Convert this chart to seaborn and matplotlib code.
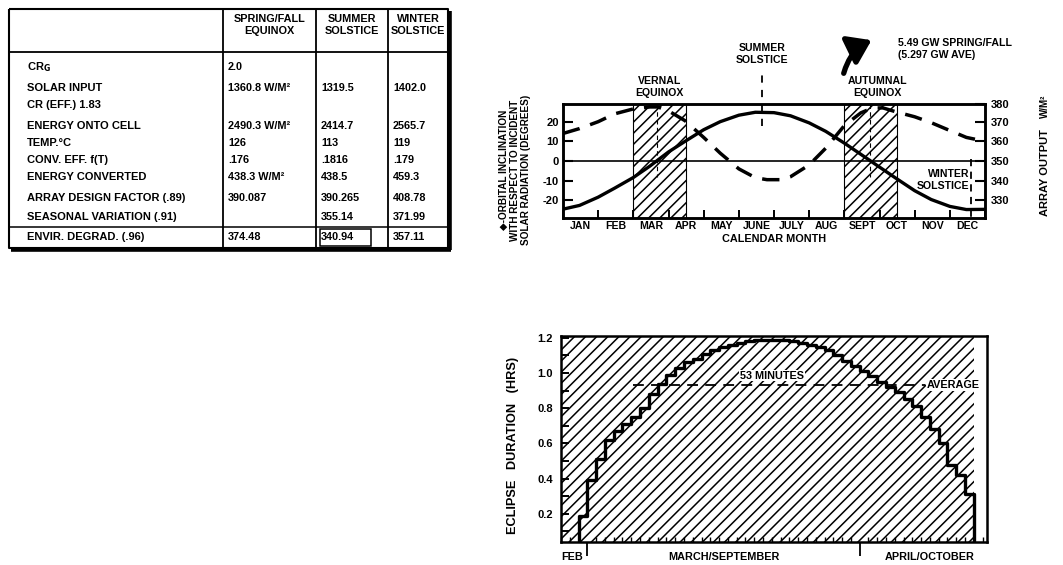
import numpy as np
import pandas as pd
import matplotlib
matplotlib.use("Agg")
import matplotlib.pyplot as plt
import seaborn as sns
from matplotlib.patches import FancyArrowPatch, Rectangle

sns.set_theme(style="ticks", rc={
    "axes.edgecolor": "black", "text.color": "black", "xtick.color": "black",
    "ytick.color": "black", "axes.labelcolor": "black", "axes.linewidth": 1.8,
    "hatch.linewidth": 1.1, "hatch.color": "black"})
plt.rcParams["font.family"] = ["Liberation Sans", "DejaVu Sans"]
plt.rcParams["font.weight"] = "bold"
plt.rcParams["axes.labelweight"] = "bold"

# ---------------- table data ----------------
table_header = ["SPRING/FALL\nEQUINOX", "SUMMER\nSOLSTICE", "WINTER\nSOLSTICE"]
table_labels = [r"CR$_{\mathbf{G}}$", "SOLAR INPUT", "CR (EFF.) 1.83", "ENERGY ONTO CELL",
                "TEMP.°C", "CONV. EFF. f(T)", "ENERGY CONVERTED",
                "ARRAY DESIGN FACTOR (.89)", "SEASONAL VARIATION (.91)", "ENVIR. DEGRAD. (.96)"]
spring_fall = ["2.0", "1360.8 W/M²", "", "2490.3 W/M²", "126", ".176", "438.3 W/M²",
               "390.087", "", "374.48"]
summer = ["", "1319.5", "", "2414.7", "113", ".1816", "438.5", "390.265", "355.14", "340.94"]
winter = ["", "1402.0", "", "2565.7", "119", ".179", "459.3", "408.78", "371.99", "357.11"]

# ---------------- top chart data (x = months since Jan 1) ----------------
month_names = ["JAN", "FEB", "MAR", "APR", "MAY", "JUNE", "JULY", "AUG", "SEPT", "OCT", "NOV", "DEC"]
incl_month = [0, 0.47, 1, 1.47, 2, 2.47, 3, 3.47, 4, 4.47, 5, 5.47, 6, 6.47, 7, 7.47,
              8, 8.47, 9, 9.47, 10, 10.47, 11, 11.47, 12]
inclination = [-24.5, -22.6, -18.4, -13.8, -8.4, -2.6, 4.6, 10.0, 15.9, 20.0, 23.3, 24.8,
               24.6, 23.0, 19.4, 15.1, 9.1, 3.4, -3.1, -8.8, -15.1, -19.6, -23.1, -24.7, -24.6]
out_month = [0, 0.47, 1, 1.47, 2, 2.47, 2.7, 3, 3.47, 4, 4.47, 5, 5.47, 5.8, 6.2, 6.47,
             7, 7.47, 8, 8.47, 8.8, 9.1, 9.47, 10, 10.47, 11, 11.47, 12]
array_output = [364, 366.5, 370, 374, 376.5, 377.5, 377.5, 375.5, 370.5, 362, 354, 346,
                341.5, 340.5, 340.5, 342, 348, 356.5, 368, 374.5, 377, 377, 375, 372.5,
                369.5, 365.5, 362, 360]
equinox_bands = [(2.0, 3.5), (8.0, 9.5)]
equinox_month = [2.67, 8.73]
summer_solstice = 5.67
winter_solstice = 11.6
left_ticks = [-20, -10, 0, 10, 20]
right_ticks = [330, 340, 350, 360, 370, 379]
right_ticklabels = ["330", "340", "350", "360", "370", "380"]

# ---------------- bottom chart data (x = days since March 1) ----------------
ecl_days = list(range(-1, 44))
eclipse_hrs = [0.19, 0.39, 0.51, 0.62, 0.67, 0.71, 0.75, 0.80, 0.88, 0.94, 0.99, 1.03,
               1.06, 1.08, 1.11, 1.13, 1.15, 1.16, 1.17, 1.18, 1.19, 1.19, 1.19, 1.19,
               1.18, 1.17, 1.16, 1.15, 1.13, 1.10, 1.07, 1.04, 1.01, 0.98, 0.95, 0.92,
               0.89, 0.85, 0.81, 0.75, 0.68, 0.60, 0.48, 0.42, 0.31]
avg_level = 0.93
avg_span = (5.2, 38.4)
month_starts = [0, 31]
bottom_labels = ["FEB", "MARCH/SEPTEMBER", "APRIL/OCTOBER"]
bottom_label_pos = [-3, 15.5, 39]
ecl_yticks = [0.2, 0.4, 0.6, 0.8, 1.0, 1.2]

# ---------------- figure ----------------
W, H = 1063, 565
fig = plt.figure(figsize=(W / 100, H / 100), dpi=100)


def fr(l, t, r, b):
    return [l / W, 1 - b / H, (r - l) / W, (b - t) / H]


over = fig.add_axes([0, 0, 1, 1], zorder=0)
over.set_xlim(0, W)
over.set_ylim(H, 0)
over.axis("off")

# ---- table ----
TL, TR, TT, TB = 9, 448, 9, 248
cols = [223, 316, 388]
hdr_b = 52
row_y = [67, 88, 105, 126, 143, 160, 177, 198, 217, 237]
envir_line = 227
k = dict(color="black", solid_capstyle="butt")
over.plot([TL, TR, TR, TL, TL], [TT, TT, TB, TB, TT], lw=1.5, **k)
over.plot([TR + 1.5, TR + 1.5], [TT + 2, TB + 2], lw=2.6, **k)
over.plot([TL + 2, TR + 2.5], [TB + 1.5, TB + 1.5], lw=2.6, **k)
over.plot([TL, TR], [hdr_b, hdr_b], lw=1.3, **k)
over.plot([TL, TR], [envir_line, envir_line], lw=1.1, **k)
for c in cols:
    over.plot([c, c], [TT, TB], lw=1.3, **k)
over.add_patch(Rectangle((320, envir_line + 1.5), 51, 17, fill=False, lw=1.1, ec="black"))
centers = [(cols[0] + cols[1]) / 2, (cols[1] + cols[2]) / 2, (cols[2] + TR) / 2]
for cx, h in zip(centers, table_header):
    over.text(cx, 25, h, ha="center", va="center", fontsize=7.8, linespacing=1.35)
for y, lab in zip(row_y, table_labels):
    over.text(27, y, lab, ha="left", va="center", fontsize=8)
for colvals, x0 in zip([spring_fall, summer, winter], [c + 5 for c in cols]):
    for y, v in zip(row_y, colvals):
        if v:
            over.text(x0, y, v, ha="left", va="center", fontsize=7.8)

# ---- top chart ----
ax = fig.add_axes(fr(563, 104, 985, 218), zorder=2)
ax.patch.set_alpha(0)
ax.set_xlim(0, 12)
ax.set_ylim(-29, 29)
for a, b in equinox_bands:
    ax.axvspan(a, b, facecolor="none", edgecolor="black", hatch="///", lw=0.8, zorder=0)
ax.axhline(0, color="black", lw=1.2, zorder=1)
sns.lineplot(data=pd.DataFrame({"m": incl_month, "d": inclination}), x="m", y="d", ax=ax,
             color="black", lw=2.4, estimator=None, sort=False, zorder=3)
for e in equinox_month:
    ax.plot([e, e], [29, -8], color="black", lw=0.8, ls=(0, (4, 3)), zorder=1)
ax.plot([summer_solstice, summer_solstice], [18, 46], color="black", lw=1.3,
        ls=(0, (4, 4)), clip_on=False)
ax.plot([winter_solstice, winter_solstice], [1, -29], color="black", lw=1.3, ls=(0, (4, 3)))
ax.set_xticks(range(13))
ax.set_xticklabels([])
ax.set_xticks(np.arange(0.5, 12, 1), minor=True)
ax.set_xticklabels(month_names, minor=True, fontsize=7.6, fontweight="bold")
ax.tick_params(axis="x", which="major", direction="in", length=6, width=1.4)
ax.tick_params(axis="x", which="minor", length=0, pad=2)
ax.set_yticks(left_ticks)
ax.set_yticklabels([str(t) for t in left_ticks], fontsize=8, fontweight="bold")
ax.tick_params(axis="y", direction="in", length=7, width=1.5, pad=3)
ax.set_xlabel("CALENDAR MONTH", fontsize=7.8, fontweight="bold", labelpad=2)
ax.set_ylabel("◆-ORBITAL INCLINATION\nWITH RESPECT TO INCIDENT\nSOLAR RADIATION (DEGREES)",
              fontsize=7.2, fontweight="bold", linespacing=1.15)
ax.yaxis.set_label_coords(-0.075, 0.42)

ax2 = ax.twinx()
ax2.set_ylim(321, 379)
sns.lineplot(data=pd.DataFrame({"m": out_month, "w": array_output}), x="m", y="w", ax=ax2,
             color="black", lw=2.5, estimator=None, sort=False, linestyle=(0, (5, 3.2)))
ax2.set_yticks(right_ticks)
ax2.set_yticklabels(right_ticklabels, fontsize=8, fontweight="bold")
ax2.tick_params(axis="y", direction="in", length=7, width=1.5, pad=4)
ax2.set_ylabel("ARRAY OUTPUT", fontsize=8, fontweight="bold", labelpad=10)
ax2.yaxis.set_label_coords(1.13, 0.4)
ax2.set_xlabel("")

xt = ax.get_xaxis_transform()
ax.text(2.75, 1.05, "VERNAL\nEQUINOX", transform=xt, ha="center", va="bottom",
        fontsize=7.6, linespacing=1.3)
ax.text(summer_solstice, 1.34, "SUMMER\nSOLSTICE", transform=xt, ha="center", va="bottom",
        fontsize=7.6, linespacing=1.3)
ax.text(8.95, 1.05, "AUTUMNAL\nEQUINOX", transform=xt, ha="center", va="bottom",
        fontsize=7.6, linespacing=1.3)
ax.text(winter_solstice - 0.05, -4, "WINTER\nSOLSTICE", ha="right", va="top",
        fontsize=7.6, linespacing=1.3)

over.text(1045, 106, "W/M²", rotation=90, ha="center", va="center", fontsize=7)
over.text(898, 38, "5.49 GW SPRING/FALL\n(5.297 GW AVE)", ha="left", va="top",
          fontsize=7.6, linespacing=1.3)
over.add_patch(FancyArrowPatch((843, 76), (874, 39), connectionstyle="arc3,rad=-0.25",
                               arrowstyle="-|>,head_length=0.8,head_width=0.55",
                               mutation_scale=17, lw=3.8, color="black"))

# ---- bottom chart ----
bx = fig.add_axes(fr(561, 336, 987, 542), zorder=2)
bx.set_xlim(-3, 45.5)
bx.set_ylim(0.04, 1.21)
x_step = [ecl_days[0]] + ecl_days + [ecl_days[-1] + 1]
y_step = [0.0] + eclipse_hrs + [0.0]
bx.axvspan(bx.get_xlim()[0], ecl_days[-1] + 1, facecolor="none", edgecolor="black",
           hatch="///", lw=0, zorder=0)
sns.lineplot(data=pd.DataFrame({"d": x_step, "h": y_step}), x="d", y="h", ax=bx,
             color="black", lw=2.4, estimator=None, sort=False, drawstyle="steps-post", zorder=3)
bx.hlines(avg_level, avg_span[0], avg_span[1], colors="black", lw=1.3,
          linestyles=(0, (6, 4)), zorder=3)
bx.text(avg_span[1] + 0.2, avg_level, "AVERAGE", ha="left", va="center", fontsize=7.8,
        zorder=4, bbox=dict(facecolor="white", edgecolor="none", pad=0.6))
bx.text(21, 0.985, "53 MINUTES", ha="center", va="center", fontsize=7.8, zorder=4,
        bbox=dict(facecolor="white", edgecolor="none", pad=0.6))
bx.set_yticks(ecl_yticks)
bx.set_yticklabels([f"{t:.1f}" for t in ecl_yticks], fontsize=8, fontweight="bold")
bx.set_yticks(np.arange(0.1, 1.2, 0.2), minor=True)
bx.tick_params(axis="y", which="both", direction="in", length=6, width=1.4, pad=6)
bx.set_xticks(month_starts)
bx.set_xticklabels([])
bx.set_xticks(np.arange(-3, 46, 1), minor=True)
bx.tick_params(axis="x", which="major", direction="out", length=10, width=1.3)
bx.tick_params(axis="x", which="minor", direction="in", length=3.5, width=1.0)
bx.set_xlabel("")
bx.set_ylabel("ECLIPSE   DURATION   (HRS)", fontsize=9.2, fontweight="bold")
bx.yaxis.set_label_coords(-0.098, 0.47)
bt = bx.get_xaxis_transform()
for lab, pos, ha in zip(bottom_labels, bottom_label_pos, ["left", "center", "center"]):
    bx.text(pos, -0.075, lab, transform=bt, ha=ha, va="center", fontsize=7.8)

fig.savefig("out.png", dpi=100, facecolor="white")
